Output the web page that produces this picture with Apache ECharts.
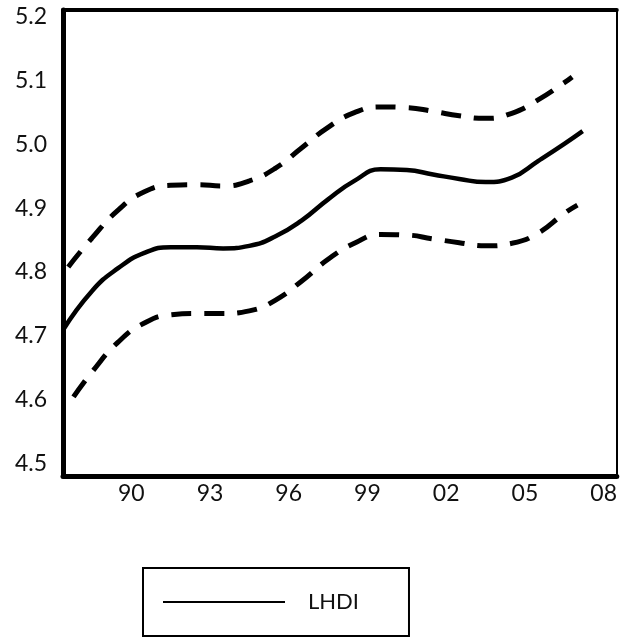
<!DOCTYPE html>
<html>
<head>
<meta charset="utf-8">
<script src="https://cdn.jsdelivr.net/npm/echarts@6/dist/echarts.min.js"></script>
<style>
    html, body { margin: 0; padding: 0; background: #fff; }
    #chart { width: 620px; height: 640px; }
</style>
</head>
<body>
<div id="chart"></div>
<script>
// tick labels
const xTicks = [1990, 1993, 1996, 1999, 2002, 2005, 2008];
const yTicks = [4.5, 4.6, 4.7, 4.8, 4.9, 5.0, 5.1, 5.2];

// LHDI (solid)
const lhdiYears = [1987.4, 1988.5, 1989.5, 1990.5, 1991.5, 1992.5, 1993.5, 1994.5, 1995.5, 1996.5, 1997.5,
    1998.5, 1999.5, 2000.5, 2001.5, 2002.5, 2003.5, 2004.5, 2005.5, 2006.5, 2007.2];
const lhdiValues = [4.709, 4.770, 4.806, 4.830, 4.839, 4.839, 4.837, 4.841, 4.856, 4.881, 4.914,
    4.943, 4.961, 4.960, 4.953, 4.946, 4.941, 4.948, 4.974, 5.001, 5.021];

// upper band (dashed)
const upperYears = [1987.6, 1988.5, 1989.5, 1990.5, 1991.5, 1992.5, 1993.5, 1994.5, 1995.5, 1996.5, 1997.5,
    1998.5, 1999.5, 2000.5, 2001.5, 2002.5, 2003.5, 2004.5, 2005.5, 2006.5, 2006.8];
const upperValues = [4.808, 4.853, 4.897, 4.926, 4.936, 4.937, 4.935, 4.943, 4.963, 4.995, 5.027,
    5.050, 5.059, 5.058, 5.052, 5.045, 5.041, 5.049, 5.070, 5.097, 5.106];

// lower band (dashed)
const lowerYears = [1987.8, 1988.5, 1989.5, 1990.5, 1991.5, 1992.5, 1993.5, 1994.5, 1995.5, 1996.5, 1997.5,
    1998.5, 1999.5, 2000.5, 2001.5, 2002.5, 2003.5, 2004.5, 2005.5, 2006.5, 2007.0];
const lowerValues = [4.604, 4.643, 4.690, 4.720, 4.733, 4.735, 4.735, 4.739, 4.756, 4.786, 4.820,
    4.845, 4.859, 4.858, 4.852, 4.846, 4.841, 4.845, 4.861, 4.892, 4.905];

const zip = (xs, ys) => xs.map((x, i) => [x, ys[i]]);

const font = 'Lato, "Open Sans", sans-serif';
const dashStyle = { color: '#000', width: 5, type: [20, 13], cap: 'butt' };

let chart = echarts.init(document.getElementById('chart'));

let option = {
    animation: false,
    grid: { left: 63, right: 3, top: 10, bottom: 164 },
    xAxis: [
        {
            type: 'value',
            min: 1987.4,
            max: 2008.5,
            axisLine: { show: true, onZero: false, lineStyle: { color: '#000', width: 5 } },
            axisTick: { show: false },
            splitLine: { show: false },
            axisLabel: {
                customValues: xTicks,
                formatter: v => String(v).slice(2),
                color: '#111',
                fontFamily: font,
                fontSize: 23,
                margin: 6
            }
        },
        {
            type: 'value',
            position: 'top',
            min: 1987.4,
            max: 2008.5,
            axisLine: { show: true, onZero: false, lineStyle: { color: '#000', width: 4 } },
            axisTick: { show: false },
            axisLabel: { show: false },
            splitLine: { show: false }
        }
    ],
    yAxis: [
        {
            type: 'value',
            min: 4.48,
            max: 5.211,
            axisLine: { show: true, onZero: false, lineStyle: { color: '#000', width: 5 } },
            axisTick: { show: false },
            splitLine: { show: false },
            axisLabel: {
                customValues: yTicks,
                formatter: v => v.toFixed(1),
                color: '#111',
                fontFamily: font,
                fontSize: 23,
                margin: 16
            }
        },
        {
            type: 'value',
            position: 'right',
            min: 4.48,
            max: 5.211,
            axisLine: { show: true, onZero: false, lineStyle: { color: '#000', width: 2 } },
            axisTick: { show: false },
            axisLabel: { show: false },
            splitLine: { show: false }
        }
    ],
    legend: {
        data: ['LHDI'],
        left: 143,
        top: 568,
        padding: [23, 50, 23, 20],
        borderColor: '#000',
        borderWidth: 2,
        icon: 'rect',
        itemWidth: 122,
        itemHeight: 2,
        itemStyle: { color: '#000' },
        textStyle: { color: '#111', fontFamily: font, fontSize: 22, padding: [0, 0, 0, 18] }
    },
    series: [
        {
            name: 'LHDI',
            type: 'line',
            data: zip(lhdiYears, lhdiValues),
            smooth: true,
            showSymbol: false,
            lineStyle: { color: '#000', width: 4.5 },
            itemStyle: { color: '#000' }
        },
        {
            name: 'upper',
            type: 'line',
            data: zip(upperYears, upperValues),
            smooth: true,
            showSymbol: false,
            lineStyle: dashStyle,
            itemStyle: { color: '#000' }
        },
        {
            name: 'lower',
            type: 'line',
            data: zip(lowerYears, lowerValues),
            smooth: true,
            showSymbol: false,
            lineStyle: dashStyle,
            itemStyle: { color: '#000' }
        }
    ]
};

chart.setOption(option);
</script>
</body>
</html>
